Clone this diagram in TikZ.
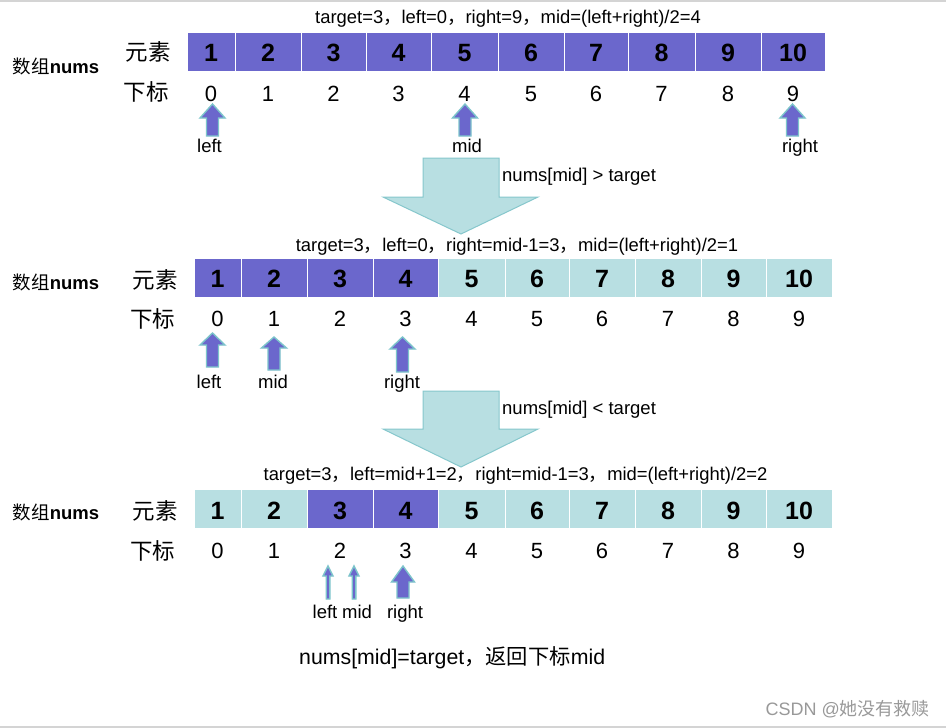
\documentclass[tikz,border=0pt]{standalone}
\usepackage{fontspec}
\setmainfont{Liberation Sans}
\newfontfamily\cjk{Noto Sans CJK SC}
\definecolor{purp}{HTML}{6B67CC}
\definecolor{cyanf}{HTML}{B8DFE2}
\definecolor{cyand}{HTML}{86C7CC}
\definecolor{arrline}{HTML}{7CC4CB}
\definecolor{frameg}{HTML}{D4D4D4}
\newcommand\upblock[6]{% x, tip, headbase, bottom, half head, half shaft
  \filldraw[smallarr] (#1,#2) -- ({#1+#5},#3) -- ({#1+#6},#3) -- ({#1+#6},#4)
    -- ({#1-#6},#4) -- ({#1-#6},#3) -- ({#1-#5},#3) -- cycle;}
\newcommand\downblock[3]{% top, headbase, tip
  \filldraw[bigarr] (423,#1) -- (499,#1) -- (499,#2) -- (538,#2) -- (461,#3)
    -- (383,#2) -- (423,#2) -- cycle;}
\begin{document}
\begin{tikzpicture}[x=1pt,y=-1pt,
  cellbox/.style={draw=white,line width=1pt,inner sep=0pt,minimum height=39pt},
  cellnum/.style={anchor=base,inner sep=0pt,font=\fontsize{25}{27}\selectfont\bfseries},
  idx/.style={anchor=base,inner sep=0pt,font=\fontsize{22}{24}\selectfont},
  lbl/.style={anchor=base,inner sep=0pt,font=\fontsize{18.5}{20}\selectfont},
  toptext/.style={anchor=base,inner sep=0pt,font=\fontsize{18.4}{20}\selectfont},
  cnlabel/.style={inner sep=0pt,font=\cjk\fontsize{22.5}{24}\selectfont},
  arrname/.style={inner sep=0pt,font=\fontsize{18.5}{20}\selectfont\bfseries},
  smallarr/.style={fill=purp,draw=arrline,line width=1.4pt,line join=miter},
  bigarr/.style={fill=cyanf,draw=cyand,line width=1pt,line join=miter}]
\useasboundingbox (0,0) rectangle (946,728);
\fill[white] (0,0) rectangle (946,728);
\draw[frameg,line width=2pt] (0,1) -- (946,1);
\draw[frameg,line width=2pt] (0,727) -- (946,727);

% ---------- row 1 ----------
\node[toptext] (t1) at (508,23.3) {target=3{\cjk ，}left=0{\cjk ，}right=9{\cjk ，}mid=(left+right)/2=4};
\node[arrname] (a1) at (56,66) {{\cjk\mdseries 数组}nums};
\node[cnlabel] (e1) at (148,52) {元素};
\node[cnlabel] (s1) at (146,92) {下标};
\foreach \a/\b/\v/\c/\k in {187/235/1/purp/0,235/301/2/purp/1,301/366/3/purp/2,366/431/4/purp/3,
   431/498/5/purp/4,498/564/6/purp/5,564/628/7/purp/6,628/695/8/purp/7,695/761/9/purp/8,761/825/10/purp/9}{
  \node[cellbox,fill=\c,minimum width={(\b-\a)*1pt}] (r1c\v) at ({(\a+\b)/2},51.5) {};
  \node[cellnum] (r1v\v) at ({(\a+\b)/2},61.7) {\v};
  \node[idx] (r1i\v) at ({(\a+\b)/2},101) {\k};
}
\upblock{212.5}{104}{118}{136}{12.5}{6}
\upblock{465}{104}{118}{136}{12.5}{6}
\upblock{792.5}{104}{118}{136}{12.5}{6}
\node[lbl] (l1) at (209.5,152.7) {left};
\node[lbl] (m1) at (467,152.7) {mid};
\node[lbl] (g1) at (800,152.7) {right};

\downblock{158}{197}{234}
\node[lbl,anchor=base west] (c1) at (502,181.7) {nums[mid] > target};

% ---------- row 2 ----------
\node[toptext] (t2) at (517,251.7) {target=3{\cjk ，}left=0{\cjk ，}right=mid-1=3{\cjk ，}mid=(left+right)/2=1};
\node[arrname] (a2) at (56,282) {{\cjk\mdseries 数组}nums};
\node[cnlabel] (e2) at (155,280) {元素};
\node[cnlabel] (s2) at (152.5,319) {下标};
\foreach \a/\b/\v/\c/\k in {194/241/1/purp/0,241/307/2/purp/1,307/373/3/purp/2,373/438/4/purp/3,
   438/505/5/cyanf/4,505/569/6/cyanf/5,569/635/7/cyanf/6,635/701/8/cyanf/7,701/766/9/cyanf/8,766/832/10/cyanf/9}{
  \node[cellbox,fill=\c,minimum width={(\b-\a)*1pt}] (r2c\v) at ({(\a+\b)/2},277.5) {};
  \node[cellnum] (r2v\v) at ({(\a+\b)/2},287.3) {\v};
  \node[idx] (r2i\v) at ({(\a+\b)/2},326.7) {\k};
}
\upblock{212.5}{333}{345}{367}{12.5}{6}
\upblock{274}{337}{348}{370}{12.5}{6}
\upblock{402.5}{337}{349}{372}{12.5}{6}
\node[lbl] (l2) at (209,388.3) {left};
\node[lbl] (m2) at (273,388.3) {mid};
\node[lbl] (g2) at (402,388.3) {right};

\downblock{391}{429}{467}
\node[lbl,anchor=base west] (c2) at (502,414.3) {nums[mid] < target};

% ---------- row 3 ----------
\node[toptext] (t3) at (515.5,480.7) {target=3{\cjk ，}left=mid+1=2{\cjk ，}right=mid-1=3{\cjk ，}mid=(left+right)/2=2};
\node[arrname] (a3) at (56,512) {{\cjk\mdseries 数组}nums};
\node[cnlabel] (e3) at (155,511) {元素};
\node[cnlabel] (s3) at (152.5,551) {下标};
\foreach \a/\b/\v/\c/\k in {194/241/1/cyanf/0,241/307/2/cyanf/1,307/373/3/purp/2,373/438/4/purp/3,
   438/505/5/cyanf/4,505/569/6/cyanf/5,569/635/7/cyanf/6,635/701/8/cyanf/7,701/766/9/cyanf/8,766/832/10/cyanf/9}{
  \node[cellbox,fill=\c,minimum width={(\b-\a)*1pt}] (r3c\v) at ({(\a+\b)/2},509) {};
  \node[cellnum] (r3v\v) at ({(\a+\b)/2},519.3) {\v};
  \node[idx] (r3i\v) at ({(\a+\b)/2},558.3) {\k};
}
\upblock{328}{566}{576}{599}{5}{1.8}
\upblock{354}{566}{576}{599}{5}{1.8}
\upblock{403}{566}{582}{598}{11.5}{6}
\node[lbl] (l3) at (325,618.3) {left};
\node[lbl] (m3) at (357,618.3) {mid};
\node[lbl] (g3) at (405,618.3) {right};

\node[anchor=base west,inner sep=0pt,font=\fontsize{21.3}{23}\selectfont] (res) at (299,664) {nums[mid]=target{\cjk ，返回下标}mid};
\node[anchor=base east,inner sep=0pt,text=black!40,font=\fontsize{18}{20}\selectfont] (wm) at (930,715.5) {CSDN @{\cjk 她没有救赎}};
\end{tikzpicture}
\end{document}
